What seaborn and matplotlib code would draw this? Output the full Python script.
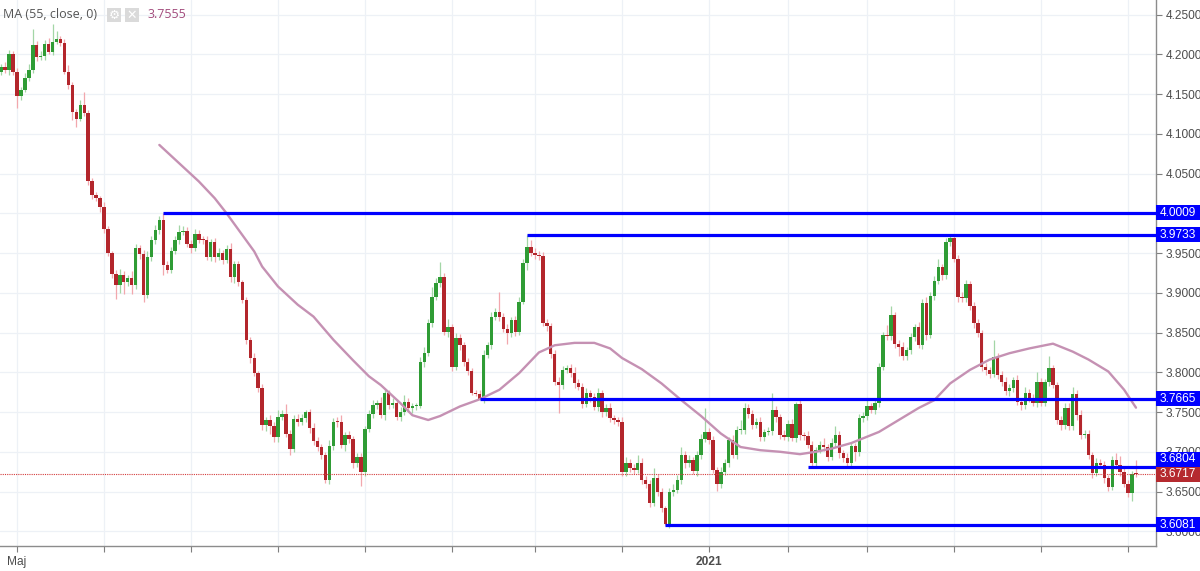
import numpy as np
import pandas as pd
import matplotlib
matplotlib.use('Agg')
import matplotlib.pyplot as plt
import matplotlib.transforms as mtransforms
from matplotlib.patches import Rectangle
import seaborn as sns

# ==================== 数据 ====================
first_open = 4.178
closes = [
    4.184, 4.180, 4.201, 4.178, 4.147, 4.155, 4.170, 4.180, 4.212, 4.197,
    4.198, 4.213, 4.203, 4.216, 4.219, 4.214, 4.178, 4.161, 4.128, 4.119,
    4.136, 4.126, 4.040, 4.023, 4.019, 4.008, 3.980, 3.950, 3.924, 3.910,
    3.922, 3.914, 3.918, 3.910, 3.956, 3.949, 3.897, 3.945, 3.966, 3.979,
    3.991, 3.935, 3.929, 3.952, 3.966, 3.977, 3.978, 3.962, 3.956, 3.974,
    3.967, 3.966, 3.945, 3.964, 3.945, 3.950, 3.941, 3.955, 3.920, 3.936,
    3.913, 3.891, 3.841, 3.818, 3.799, 3.780, 3.734, 3.740, 3.732, 3.718,
    3.744, 3.748, 3.723, 3.704, 3.741, 3.738, 3.743, 3.750, 3.730, 3.713,
    3.706, 3.696, 3.664, 3.707, 3.738, 3.737, 3.709, 3.721, 3.716, 3.686,
    3.693, 3.675, 3.729, 3.748, 3.759, 3.761, 3.746, 3.774, 3.759, 3.762,
    3.744, 3.750, 3.763, 3.755, 3.757, 3.758, 3.813, 3.824, 3.862, 3.895,
    3.912, 3.920, 3.851, 3.857, 3.807, 3.843, 3.834, 3.813, 3.801, 3.774,
    3.773, 3.767, 3.822, 3.834, 3.870, 3.876, 3.870, 3.855, 3.850, 3.866,
    3.851, 3.889, 3.937, 3.958, 3.950, 3.948, 3.946, 3.862, 3.858, 3.823,
    3.788, 3.784, 3.803, 3.805, 3.799, 3.786, 3.782, 3.760, 3.774, 3.769,
    3.756, 3.774, 3.750, 3.755, 3.742, 3.740, 3.738, 3.675, 3.686, 3.680,
    3.677, 3.686, 3.665, 3.660, 3.636, 3.667, 3.650, 3.629, 3.609, 3.649,
    3.652, 3.665, 3.696, 3.686, 3.690, 3.676, 3.696, 3.716, 3.725, 3.715,
    3.677, 3.660, 3.675, 3.686, 3.715, 3.696, 3.727, 3.728, 3.755, 3.748,
    3.734, 3.738, 3.719, 3.725, 3.726, 3.752, 3.744, 3.721, 3.719, 3.735,
    3.717, 3.760, 3.721, 3.720, 3.709, 3.686, 3.702, 3.709, 3.706, 3.694,
    3.711, 3.721, 3.698, 3.692, 3.686, 3.707, 3.700, 3.742, 3.745, 3.757,
    3.753, 3.762, 3.807, 3.847, 3.846, 3.872, 3.836, 3.832, 3.820, 3.828,
    3.845, 3.857, 3.834, 3.887, 3.847, 3.896, 3.915, 3.932, 3.922, 3.964,
    3.969, 3.943, 3.895, 3.893, 3.911, 3.883, 3.862, 3.849, 3.807, 3.803,
    3.798, 3.819, 3.797, 3.788, 3.776, 3.780, 3.790, 3.763, 3.759, 3.774,
    3.767, 3.762, 3.788, 3.762, 3.788, 3.805, 3.784, 3.740, 3.734, 3.755,
    3.732, 3.773, 3.746, 3.721, 3.723, 3.696, 3.673, 3.686, 3.684, 3.667,
    3.656, 3.690, 3.683, 3.675, 3.660, 3.648, 3.672, 3.6717,
]
# 上下影线长度（千分之一）
wick_up = [
    4, 6, 5, 3, 5, 4, 6, 8, 20, 5,
    6, 5, 8, 22, 10, 4, 5, 9, 4, 3,
    6, 17, 4, 5, 4, 3, 6, 4, 3, 5,
    8, 6, 5, 10, 6, 4, 5, 8, 5, 6,
    6, 10, 5, 6, 5, 8, 6, 5, 4, 6,
    5, 4, 6, 4, 5, 6, 4, 5, 8, 4,
    4, 3, 4, 4, 6, 3, 5, 4, 6, 5,
    8, 5, 12, 4, 5, 6, 4, 3, 4, 6,
    6, 4, 4, 8, 5, 6, 9, 4, 5, 4,
    5, 6, 4, 5, 6, 4, 8, 5, 4, 6,
    5, 6, 8, 5, 4, 3, 6, 8, 5, 12,
    6, 19, 5, 10, 4, 6, 5, 4, 5, 4,
    4, 5, 6, 4, 6, 5, 25, 5, 6, 4,
    5, 6, 5, 15, 8, 6, 4, 5, 5, 4,
    5, 6, 5, 4, 6, 8, 5, 4, 6, 4,
    5, 6, 4, 5, 6, 4, 4, 6, 8, 5,
    5, 10, 6, 4, 5, 12, 5, 4, 3, 6,
    8, 6, 10, 5, 6, 4, 5, 6, 30, 5,
    5, 4, 6, 5, 4, 6, 5, 12, 6, 5,
    4, 5, 6, 4, 5, 22, 5, 4, 6, 5,
    6, 3, 5, 4, 6, 5, 4, 5, 8, 4,
    6, 12, 5, 4, 6, 5, 4, 6, 5, 8,
    5, 6, 5, 4, 12, 11, 4, 5, 6, 4,
    5, 4, 6, 5, 8, 5, 6, 10, 4, 5,
    3, 4.3, 5, 6, 5, 4, 6, 5, 4, 5,
    4, 22, 5, 4, 6, 5, 4, 6, 5, 8,
    5, 6, 12, 5, 4, 15, 4, 4, 5, 6,
    6, 8, 5, 6, 4, 5, 4, 6, 5, 4,
    4, 5, 8, 12, 6, 5, 4, 18,
]
wick_dn = [
    4, 3, 6, 4, 14, 5, 3, 4, 3, 6,
    4, 5, 3, 4, 3, 4, 3, 5, 11, 11,
    3, 4, 4, 5, 4, 6, 5, 4, 6, 18,
    10, 15, 6, 12, 5, 6, 8, 4, 5, 4,
    5, 12, 4, 4, 3, 4, 4, 5, 6, 3,
    4, 5, 4, 5, 6, 4, 5, 4, 6, 8,
    5, 4, 5, 6, 4, 5, 6, 8, 10, 6,
    6, 4, 4, 8, 4, 5, 4, 5, 6, 4,
    5, 5, 3, 4, 5, 6, 4, 8, 5, 6,
    5, 18, 6, 4, 5, 5, 4, 6, 5, 4,
    4, 5, 4, 5, 6, 4, 3, 6, 4, 5,
    4, 5, 4, 6, 5, 4, 6, 5, 4, 3,
    3, 0.5, 5, 4, 5, 4, 5, 4, 14, 5,
    5, 4, 3, 8, 4, 5, 5, 4, 6, 5,
    4, 35, 5, 4, 5, 6, 4, 5, 4, 6,
    4, 5, 6, 5, 4, 5, 6, 5, 6, 5,
    5, 4, 5, 6, 5, 4, 6, 5, 1, 5,
    5, 4, 5, 6, 5, 4, 6, 5, 4, 5,
    4, 9, 5, 4, 5, 4, 5, 4, 5, 6,
    5, 4, 6, 5, 4, 5, 6, 5, 4, 5,
    4, 5, 6, 5, 4, 5.6, 5, 4, 5, 6,
    4, 5, 6, 5, 4, 6, 12, 5, 4, 5,
    4, 5, 6, 4, 5, 6, 5, 12, 5, 4,
    5, 6, 4, 5, 6, 4, 5, 4, 6, 5,
    5, 4, 6, 5, 4, 5, 6, 4, 5, 6,
    5, 4, 6, 5, 4, 6, 5, 4, 6, 5,
    4, 5, 6, 5, 4, 5, 4, 5, 6, 5,
    5, 4, 6, 5, 4, 5, 6, 4, 5, 6,
    5, 4, 5, 6, 4, 5, 10, 3,
]

# MA(55) 读数
ma_idx = [40, 45, 50, 54, 57, 64, 66, 70, 75, 79, 84, 89, 93, 96, 101, 104, 108,
          111, 116, 121, 126, 131, 136, 140, 145, 150, 154, 157, 162, 167, 172,
          177, 182, 187, 192, 197, 202, 206, 210, 215, 217, 222, 227, 232, 236,
          240, 245, 250, 255, 260, 266, 271, 275, 280, 284, 287]
ma_val = [4.086, 4.063, 4.040, 4.019, 4.000, 3.952, 3.933, 3.908, 3.885, 3.870,
          3.841, 3.815, 3.795, 3.784, 3.761, 3.746, 3.740, 3.745, 3.757, 3.766,
          3.778, 3.799, 3.825, 3.834, 3.837, 3.837, 3.830, 3.818, 3.804, 3.786,
          3.765, 3.745, 3.723, 3.706, 3.702, 3.700, 3.697, 3.700, 3.704, 3.711,
          3.715, 3.725, 3.740, 3.755, 3.765, 3.786, 3.803, 3.816, 3.824, 3.830,
          3.836, 3.826, 3.816, 3.801, 3.778, 3.7555]

# 支撑/阻力线
levels = [4.0009, 3.9733, 3.7665, 3.6804, 3.6081]
level_start = [41, 133, 121, 204, 168]

yticks = [3.60, 3.65, 3.70, 3.75, 3.80, 3.85, 3.90, 3.95, 4.00, 4.05, 4.10, 4.15, 4.20, 4.25]
month_ticks = [4, 26, 48, 70, 92, 114, 135, 157, 179, 199, 219, 241, 263, 285]
month_labels = ['Maj', '', '', '', '', '', '', '', '2021', '', '', '', '', '']

# ==================== 样式 ====================
sns.set_theme(style='white')
plt.rcParams['font.family'] = ['Liberation Sans', 'DejaVu Sans']

GREEN, RED = '#2f9c35', '#b3262c'
GREEN_W, RED_W = '#a3d6a6', '#f2a7ad'
BLUE = '#0000ff'
MA_COL = '#c591b3'
GRID = '#edf1f6'
TXT = '#4d4d4d'

fig = plt.figure(figsize=(12, 5.71), dpi=100)
ax = fig.add_axes([0, 25 / 571, 1156 / 1200, 546 / 571])

c = np.array(closes)
o = np.r_[first_open, c[:-1]]
idx = np.arange(len(c))
top = np.maximum(o, c)
bot = np.minimum(o, c)
hi = top + np.array(wick_up) / 1000
lo = bot - np.array(wick_dn) / 1000
up = c >= o

# 影线
ax.vlines(idx[up], lo[up], hi[up], color=GREEN_W, lw=0.9, zorder=2)
ax.vlines(idx[~up], lo[~up], hi[~up], color=RED_W, lw=0.9, zorder=2)
# 实体
h = np.maximum(top - bot, 0.0013)
ax.bar(idx[up], h[up], bottom=bot[up], width=0.86, color=GREEN, linewidth=0, zorder=3)
ax.bar(idx[~up], h[~up], bottom=bot[~up], width=0.86, color=RED, linewidth=0, zorder=3)

# MA
sns.lineplot(x=ma_idx, y=ma_val, ax=ax, color=MA_COL, lw=1.7, zorder=4)

xmax = 292.06
ax.set_xlim(-0.3, xmax)
ax.set_ylim(3.5815, 4.2683)

# 水平线
for lv, st in zip(levels, level_start):
    ax.hlines(lv, st, xmax, color=BLUE, lw=2.3, zorder=5)

last = closes[-1]
ax.axhline(last, color='#d43c3c', lw=0.8, ls=(0, (1, 1)), zorder=4)

# 坐标轴
box_h = 15 / 795
box_w = 44 / 1156
ax.yaxis.tick_right()
ax.set_yticks(yticks)
# 被价格标签完全盖住的刻度不显示
ax.set_yticklabels(['' if min(abs(v - lv) for lv in levels) < 0.004 else f'{v:.4f}'
                    for v in yticks])
ax.set_xticks(month_ticks)
ax.set_xticklabels(month_labels)
for lab in ax.get_xticklabels():
    if lab.get_text() == '2021':
        lab.set_fontweight('bold')
ax.tick_params(axis='y', right=True, length=4, width=0.8, color='#7f7f7f',
               labelsize=8.6, labelcolor=TXT, pad=3)
ax.tick_params(axis='x', bottom=True, length=4, width=0.8, color='#7f7f7f',
               labelsize=8.6, labelcolor=TXT, pad=3)
ax.grid(True, color=GRID, lw=0.9, zorder=0)
for s in ['top', 'left']:
    ax.spines[s].set_visible(False)
for s in ['right', 'bottom']:
    ax.spines[s].set_color('#8c8c8c')
    ax.spines[s].set_linewidth(1.0)

# 右侧价格标签
trans = mtransforms.blended_transform_factory(ax.transAxes, ax.transData)


def price_box(y, text, color):
    ax.add_patch(Rectangle((1.0, y - box_h / 2), box_w, box_h, transform=trans,
                           facecolor=color, edgecolor='none', clip_on=False, zorder=10))
    ax.text(1.0 + box_w / 2, y, text, transform=trans, ha='center', va='center',
            color='white', fontsize=8.6, clip_on=False, zorder=11)


for lv in levels:
    y = lv
    if abs(lv - last) < box_h:
        y = last + box_h
    price_box(y, f'{lv:.4f}', BLUE)
price_box(last, f'{last:.4f}', '#b52a2f')

# 左上角图例
fig.text(3 / 1200, 1 - 15 / 571, 'MA (55, close, 0)', fontsize=9, color='#555555',
         va='center', ha='left', family=['Open Sans', 'DejaVu Sans'])
for x0, glyph in [(107, '\u2699'), (125, '\u2715')]:
    fig.patches.append(Rectangle((x0 / 1200, 1 - 22 / 571), 14 / 1200, 14 / 571,
                                 transform=fig.transFigure, facecolor='#dadada',
                                 edgecolor='none'))
    fig.text((x0 + 7) / 1200, 1 - 15 / 571, glyph, fontsize=9, color='white',
             ha='center', va='center', family=['DejaVu Sans'])
fig.text(147 / 1200, 1 - 15 / 571, f'{ma_val[-1]:.4f}', fontsize=9, color='#a24b7c',
         va='center', ha='left', family=['Open Sans', 'DejaVu Sans'])

fig.savefig('out.png', dpi=100)
